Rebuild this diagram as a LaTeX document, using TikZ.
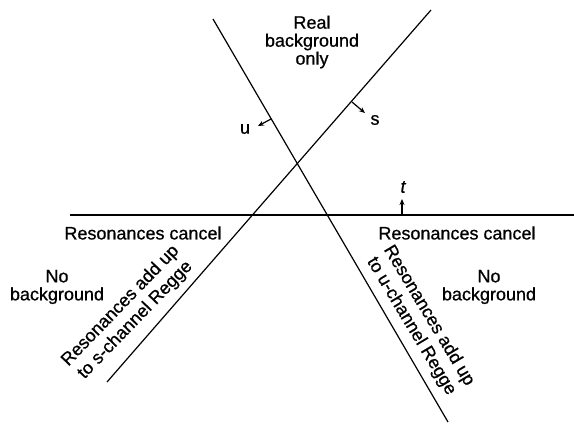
\documentclass[tikz,border=0pt]{standalone}
\usepackage{fontspec}
\setmainfont{Liberation Sans}[FakeBold=0.7]
\usetikzlibrary{arrows.meta}
\begin{document}
\begin{tikzpicture}[x=1pt,y=-1pt,
  boundary/.style={line width=1.2pt},
  lbl/.style={font=\fontsize{18}{18}\selectfont, align=center, inner sep=0pt},
  rlbl/.style={font=\fontsize{18}{20.5}\selectfont, align=center, inner sep=0pt},
  tick/.style={line width=1.2pt, -{Stealth[length=6pt,width=5pt]}},
  var/.style={font=\fontsize{18}{18}\selectfont, inner sep=0pt}]
\useasboundingbox (0,0) rectangle (574,424);
% boundary lines
\coordinate (H1) at (70,215);
\coordinate (H2) at (574,215);
\coordinate (S1) at (107,382);
\coordinate (S2) at (431,10);
\coordinate (U1) at (213,19);
\coordinate (U2) at (448,422);
\draw[boundary] (H1) -- (H2);
\draw[boundary] (S1) -- (S2);
\draw[boundary] (U1) -- (U2);
% direction ticks
\coordinate (sA) at (352,102);
\coordinate (sB) at (365,113);
\coordinate (uA) at (271,119);
\coordinate (uB) at (258,126);
\coordinate (tA) at (402,215);
\coordinate (tB) at (402,199);
\draw[tick] (sA) -- (sB);
\draw[tick] (uA) -- (uB);
\draw[tick] (tA) -- (tB);
\node[var] (s) at (375,120) {s};
\node[var] (u) at (245,129) {u};
\node[var] (t) at (403,187) {\itshape t};
% region labels
\node[lbl] (real) at (312,42) {Real\\background\\only};
\node[lbl] (rcl) at (143,233) {Resonances cancel};
\node[lbl] (rcr) at (457,233) {Resonances cancel};
\node[lbl] (nbl) at (57,287) {No\\background};
\node[lbl] (nbr) at (489,287) {No\\background};
\node[rlbl, rotate=46] (sreg) at (128,313) {Resonances add up\\to s-channel Regge};
\node[rlbl, rotate=-59] (ureg) at (420,321) {Resonances add up\\to u-channel Regge};
\end{tikzpicture}
\end{document}
